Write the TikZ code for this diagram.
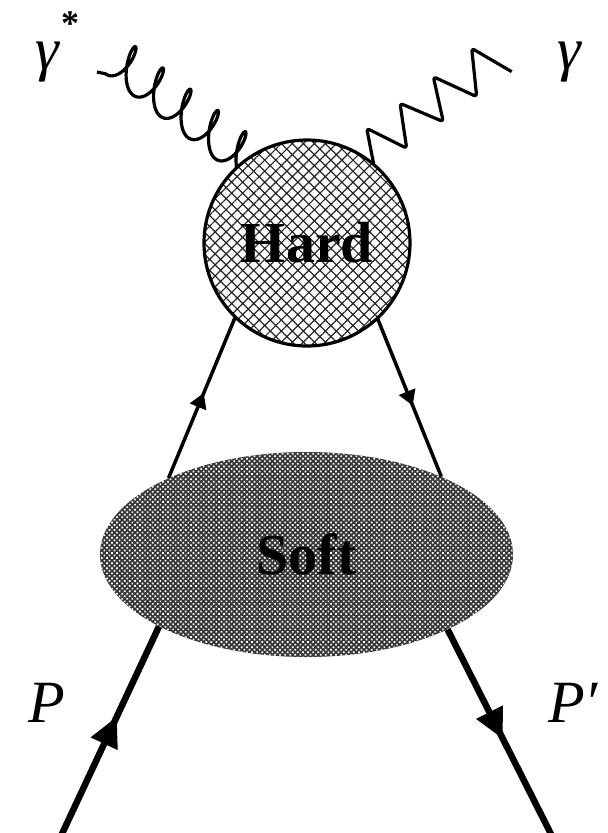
\documentclass[tikz,border=0pt]{standalone}
\usepackage{fontspec}
\setmainfont{Liberation Serif}
\usetikzlibrary{shapes.geometric,patterns.meta,decorations.markings,arrows.meta,backgrounds}
\begin{document}
\begin{tikzpicture}[x=1pt,y=-1pt,
  hardblob/.style={circle, minimum size=206pt, inner sep=0pt, line width=3.2pt, draw,
    preaction={fill=white}, pattern={Hatch[distance=7.8pt, angle=45, line width=1.2pt]},
    pattern color=black!85, font=\fontsize{58}{60}\selectfont\bfseries},
  softblob/.style={ellipse, minimum width=413pt, minimum height=205pt, inner sep=0pt,
    preaction={fill=black!78}, pattern={Dots[distance=3.6pt, radius=1.2pt, angle=45]},
    pattern color=white, font=\fontsize{58}{60}\selectfont\bfseries},
  lbl/.style={inner sep=0pt, font=\fontsize{60}{62}\selectfont\itshape},
  plbl/.style={inner sep=0pt, font=\fontsize{60}{60}\selectfont\itshape},
  quark/.style={line width=3.5pt},
  proton/.style={line width=6.5pt},
  qarrow/.style={decoration={markings, mark=at position #1 with {\arrow{Triangle[length=15pt,width=17pt]}}}, postaction={decorate}},
  parrow/.style={decoration={markings, mark=at position #1 with {\arrow{Triangle[length=30pt,width=28pt]}}}, postaction={decorate}},
  photon/.style={line width=3.2pt, rounded corners=3pt, line join=round},
  gluon/.style={line width=3.2pt, line join=round}
]
\useasboundingbox (0,0) rectangle (608,833);

\node[hardblob] (H) at (307,243) {Hard};
\node[softblob] (S) at (306.5,554.5) {Soft};

% labels
\node[lbl] (gs) at (47,62) {γ};
\node[inner sep=0pt, font=\fontsize{36}{36}\selectfont\bfseries] (star) at (70,24) {*};
\node[lbl] (g) at (569,62) {γ};
\node[plbl] (P) at (47,703) {P};
\node[plbl] (Pp) at (573,703) {P′};

% free ends
\coordinate (gstart) at (97,72);
\coordinate (gend) at (511.7,71.7);
\coordinate (pin) at (61,836);
\coordinate (pout) at (552,836);

% gluon (behind the hard blob)
\begin{scope}[on background layer]
\draw[gluon] (gstart) -- plot[domain=-3.1416:27.65, samples=600, variable=\t]
  ({119.2+(5.53*\t-9.2*sin(\t r))*0.791+20.5*(1+cos(\t r))*0.398},
   {84.4+(5.53*\t-9.2*sin(\t r))*0.612-20.5*(1+cos(\t r))*0.917});
\end{scope}

% photon
\draw[photon] (H.50) -- (366.7,128.3) -- (406.7,148.3) -- (400,103.3) -- (443.3,121.7)
  -- (433.3,76.7) -- (476.7,96.7) -- (471.7,48.3) -- (gend);

% quark lines
\draw[quark, qarrow=0.53] (S.151) -- (H.226);
\draw[quark, qarrow=0.55] (H.313) -- (S.30);

% proton lines
\draw[proton, parrow=0.57] (pin) -- (S.206);
\draw[proton, parrow=0.53] (S.332) -- (pout);
\end{tikzpicture}
\end{document}
